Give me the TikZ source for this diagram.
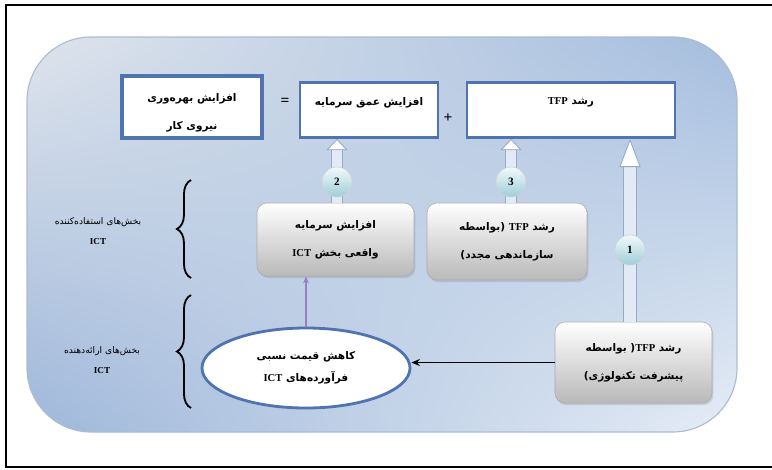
\documentclass[tikz,border=0pt]{standalone}
\usepackage{fontspec}
\setmainfont{Liberation Serif}
\newfontfamily\persianfont[Script=Arabic]{DejaVu Sans}
\TeXXeTstate=1
\usetikzlibrary{shapes.geometric, arrows.meta, positioning, calc, decorations.pathreplacing, shadows, shadings}
\definecolor{panelul}{RGB}{222, 228, 236}
\definecolor{panelur}{RGB}{164, 189, 222}
\definecolor{panelll}{RGB}{158, 183, 218}
\definecolor{panellr}{RGB}{230, 237, 246}
\definecolor{paneledge}{RGB}{172, 188, 208}
\definecolor{boxblue}{RGB}{79, 116, 176}
\definecolor{shaftedge}{RGB}{150, 170, 196}
\definecolor{shaftfill}{RGB}{226, 234, 245}
\definecolor{numtop}{RGB}{242, 249, 251}
\definecolor{numbottom}{RGB}{158, 206, 216}
\definecolor{linkpurple}{RGB}{150, 128, 190}
\newcommand{\rline}[1]{\beginR #1\endR}
\tikzset{
  bluebox/.style={draw=boxblue, line width=2pt, fill=white, align=center,
    font=\persianfont\bfseries\fontsize{7.5}{20}\selectfont},
  graybox/.style={draw=gray!65, rounded corners=0.25cm, top color=white, bottom color=gray!55,
    drop shadow={opacity=0.25, shadow xshift=1pt, shadow yshift=-1.5pt}, align=center,
    font=\persianfont\bfseries\fontsize{7.5}{20}\selectfont},
  priceell/.style={ellipse, draw=boxblue, line width=2pt, fill=white, align=center, inner sep=0pt,
    minimum width=5.2cm, minimum height=2cm, font=\persianfont\bfseries\fontsize{7.5}{15.5}\selectfont},
  numcirc/.style={circle, draw=gray!35, top color=numtop, bottom color=numbottom, inner sep=0pt,
    minimum size=0.75cm, font=\bfseries\fontsize{8}{9}\selectfont},
  sidelabel/.style={align=center, font=\persianfont\fontsize{6.5}{14}\selectfont},
  sidebrace/.style={decorate, decoration={brace, amplitude=10pt}, line width=1.3pt},
  shaftedge/.style={draw=shaftedge, line width=8.2pt, shorten >=7.5pt},
  shaftbody/.style={draw=shaftfill, line width=6.6pt,
    -{Triangle[length=8pt, width=15pt, line width=0.6pt, color=shaftedge, fill=white]}}
}

\begin{document}
\begin{tikzpicture}[x=0.025cm, y=-0.025cm]
  \useasboundingbox (0, 0) rectangle (772, 469);
  \draw[line width=1.4pt] (772, 5) -- (6, 5) -- (6, 467) -- (772, 467);

  % Background panel
  \shade[upper left=panelul, upper right=panelur, lower left=panelll, lower right=panellr,
    rounded corners=1.6cm] (27, 37) rectangle (737, 432);
  \draw[paneledge, line width=0.8pt, rounded corners=1.6cm] (27, 37) rectangle (737, 432);

  % Top equation
  \node[bluebox, line width=2.8pt, minimum width=3.5cm, minimum height=1.55cm, text height=1.2cm] (labour) at (192, 107)
    {\rline{افزایش بهره‌وری}\\\rline{نیروی کار}};
  \node[font=\bfseries\fontsize{11}{12}\selectfont] (eq) at (285, 102) {=};
  \node[bluebox, minimum width=3.45cm, minimum height=1.375cm, text depth=0.45cm] (deepen) at (369, 110)
    {\rline{افزایش عمق سرمایه}};
  \node[font=\bfseries\fontsize{11}{12}\selectfont] (plus) at (448, 118) {+};
  \node[bluebox, minimum width=5.2cm, minimum height=1.375cm, text depth=0.45cm] (tfp) at (571, 110)
    {\rline{رشد \textrm{TFP}}};

  % Sources
  \node[graybox, minimum width=3.925cm, minimum height=1.825cm] (ictcap) at (335.5, 239.5)
    {\rline{افزایش سرمایه}\\\rline{واقعی بخش \textrm{ICT}}};
  \node[graybox, minimum width=4cm, minimum height=1.925cm] (reorg) at (507, 241.5)
    {\rline{رشد \textrm{TFP} (بواسطه}\\\rline{سازماندهی مجدد)}};
  \node[graybox, minimum width=3.925cm, minimum height=2.025cm] (techtfp) at (633.5, 362.5)
    {\rline{رشد \textrm{TFP}( بواسطه}\\\rline{پیشرفت تکنولوژی)}};
  \node[priceell] (price) at (306, 368)
    {\rline{کاهش قیمت نسبی}\\\rline{فرآورده‌های \textrm{ICT}}};

  % Numbered block arrows
  \coordinate (n1) at (630, 250);
  \coordinate (n2) at (337, 182);
  \coordinate (n3) at (511, 182);
  \foreach \from/\via/\to in {ictcap/n2/deepen, reorg/n3/tfp} {
    \draw[shaftedge] (\from.north -| \via) -- (\via |- \to.south);
    \draw[shaftbody] (\from.north -| \via) -- (\via |- \to.south);
  }
  \draw[shaftedge, line width=9.6pt, shorten >=19pt] (techtfp.north -| n1) -- (n1 |- tfp.south);
  \draw[shaftbody, line width=8pt,
    -{Triangle[length=20pt, width=15pt, line width=0.6pt, color=shaftedge, fill=white]}]
    (techtfp.north -| n1) -- (n1 |- tfp.south);
  \node[numcirc] (c1) at (n1) {1};
  \node[numcirc] (c2) at (n2) {2};
  \node[numcirc] (c3) at (n3) {3};

  \draw[linkpurple, line width=1.4pt, -{Stealth[length=5pt, width=4pt]}] (price.north) -- (price.north |- ictcap.south);
  \draw[line width=1pt, -{Stealth[length=6pt, width=5pt]}] (techtfp.west) -- (techtfp.west -| price.east);

  % Sector braces
  \draw[sidebrace] (191, 278) -- (191, 180);
  \draw[sidebrace] (191, 408) -- (191, 295);
  \node[sidelabel] (users) at (98, 231) {\rline{بخش‌های استفاده‌کننده}\\\textrm{\bfseries ICT}};
  \node[sidelabel] (makers) at (102, 360) {\rline{بخش‌های ارائه‌دهنده}\\\textrm{\bfseries ICT}};
\end{tikzpicture}
\end{document}
